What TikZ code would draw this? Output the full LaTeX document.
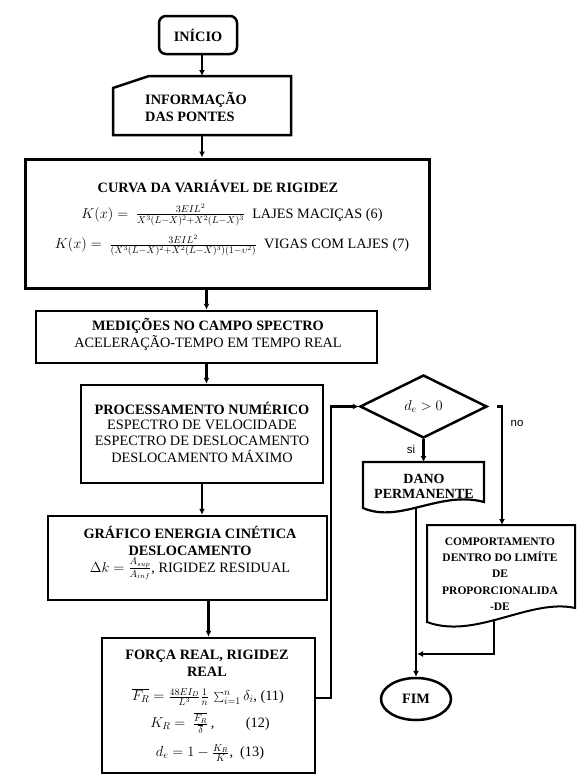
\documentclass[tikz,border=0pt]{standalone}
\usepackage{fontspec}
\setmainfont{Liberation Serif}
\newfontfamily\arialfont{Liberation Sans}
\usetikzlibrary{shapes.geometric,arrows.meta}
\tikzset{
  box/.style={draw,line width=2.5pt,inner sep=0pt},
  ttl/.style={inner sep=0pt,font=\bfseries\fontsize{14.3}{16.5}\selectfont},
  txt/.style={inner sep=0pt,font=\fontsize{14.3}{16.5}\selectfont},
  lbl/.style={inner sep=0pt,font=\arialfont\fontsize{11.5}{13}\selectfont},
  link/.style={line width=2.5pt,-{Latex[length=6pt,width=6pt]}},
}
\begin{document}
\begin{tikzpicture}[x=1pt,y=-1pt]
  \useasboundingbox (0,0) rectangle (582,777);

  \node[box,rounded corners=7pt,minimum width=78pt,minimum height=38pt,ttl] (inicio) at (198,35) {INÍCIO};

  \draw[line width=2.5pt] (113,88) -- (149,76) -- (291,76) -- (291,135) -- (113,135) -- cycle;
  \node[ttl,align=left,anchor=west] (info) at (145,107) {INFORMAÇÃO\\DAS PONTES};
  \coordinate (infoN) at (202,76);
  \coordinate (infoS) at (202,135);

  \node[box,line width=3pt,minimum width=404pt,minimum height=129pt] (curva) at (227,223.5) {};
  \node[ttl] (curvaT) at (218,186) {CURVA DA VARIÁVEL DE RIGIDEZ};
  \node[txt] (curvaA) at (232,215) {$K(x) =\ \frac{3EIL^2}{X^3(L-X)^2+X^2(L-X)^3}$\ \ LAJES MACIÇAS (6)};
  \node[txt] (curvaB) at (232,245.5) {$K(x) =\ \frac{3EIL^2}{(X^3(L-X)^2+X^2(L-X)^3)(1-\upsilon^2)}$\ \ VIGAS COM LAJES (7)};

  \node[box,minimum width=341pt,minimum height=52pt] (med) at (206.5,337) {};
  \node[ttl] (medT) at (208,326) {MEDIÇÕES NO CAMPO SPECTRO};
  \node[txt] (medA) at (208,343) {ACELERAÇÃO-TEMPO EM TEMPO REAL};

  \node[box,minimum width=242pt,minimum height=98pt] (proc) at (202,434) {};
  \node[ttl] (procT) at (202,408) {PROCESSAMENTO NUMÉRICO};
  \node[txt,align=center] (procA) at (202,441) {ESPECTRO DE VELOCIDADE\\ESPECTRO DE DESLOCAMENTO\\DESLOCAMENTO MÁXIMO};

  \node[box,minimum width=279pt,minimum height=84pt] (graf) at (187.5,558) {};
  \node[ttl,align=center] (grafT) at (190,541) {GRÁFICO ENERGIA CINÉTICA\\DESLOCAMENTO};
  \node[txt] (grafA) at (190,569) {$\Delta k = \frac{A_{sup}}{A_{inf}}$, RIGIDEZ RESIDUAL};

  \node[box,minimum width=213pt,minimum height=135pt] (forca) at (208.5,705.5) {};
  \node[ttl,align=center] (forcaT) at (207,663.5) {FORÇA REAL, RIGIDEZ\\REAL};
  \node[txt] (forcaA) at (208,697) {$\overline{F_R} = \frac{48EI_D}{L^3}\frac{1}{n}\,\sum_{i=1}^{n}\delta_i$, (11)};
  \node[txt] (forcaB) at (210,723) {$K_R =\ \frac{\overline{F_R}}{\overline{\delta}}$\,,\hspace{2.2em}(12)};
  \node[txt] (forcaC) at (210,753) {$d_e = 1-\frac{K_R}{K}$,\ \ (13)};

  \node[diamond,draw,line width=2.5pt,aspect=2,inner sep=0pt,minimum width=127pt,minimum height=63pt,txt] (dec) at (423.5,406.5) {$d_e > 0$};
  \node[lbl] (si) at (411,449) {si};
  \node[lbl] (no) at (517,423) {no};

  \draw[line width=2.2pt] (363,462) -- (484,462) -- (484,502) .. controls (440,490) and (400,524) .. (363,508) -- cycle;
  \node[ttl,align=center,font=\bfseries\fontsize{14}{15}\selectfont] (dano) at (424,486) {DANO\\PERMANENTE};
  \coordinate (danoN) at (423.5,462);
  \coordinate (danoS) at (416,508);

  \draw[line width=2pt] (427,525) -- (575,525) -- (575,608) .. controls (530,598) and (475,640) .. (427,622) -- cycle;
  \node[ttl,align=center,font=\bfseries\fontsize{11.5}{16.3}\selectfont] (comp) at (500,574) {COMPORTAMENTO\\DENTRO DO LIMÍTE\\DE\\PROPORCIONALIDA\\-DE};
  \coordinate (compN) at (502,525);
  \coordinate (compS) at (494,619);

  \node[ellipse,draw,line width=2.5pt,inner sep=0pt,minimum width=70pt,minimum height=42pt,ttl] (fim) at (416,699) {FIM};

  \coordinate (loopA) at (331,698);
  \coordinate (noA) at (497,406.5);
  \coordinate (join) at (417,654);

  \draw[link] (inicio.south -| infoN) -- (infoN);
  \draw[link] (infoS) -- (infoS |- curva.north);
  \draw[link] (curva.south -| med.north) -- (med.north);
  \draw[link] (med.south) -- (med.south |- proc.north);
  \draw[link] (proc.south) -- (proc.south |- graf.north);
  \draw[link] (graf.south -| forca.north) -- (forca.north);
  \draw[link] (forca.east |- loopA) -- (loopA) |- (dec.west);
  \draw[link] (dec.south) -- (danoN);
  \draw[link] (noA) -| (compN);
  \draw[link] (danoS) -- (fim.north);
  \draw[link] (compS) |- (join);
\end{tikzpicture}
\end{document}
